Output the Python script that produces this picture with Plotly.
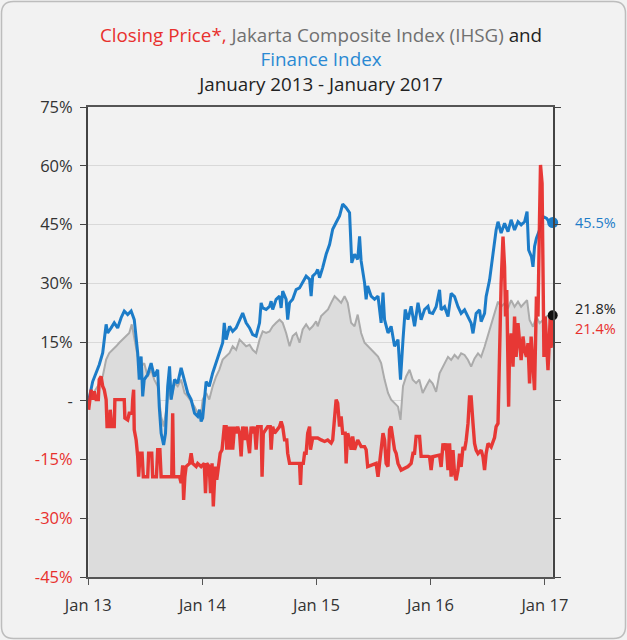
import plotly.graph_objects as go

# ---------------- data ----------------
blue_dates = [
    "2013-01-02","2013-01-15","2013-02-05","2013-02-16","2013-02-27","2013-03-04","2013-03-15","2013-03-25",
    "2013-04-05","2013-04-16","2013-04-26","2013-05-07","2013-05-18","2013-05-28","2013-06-08","2013-06-13",
    "2013-06-19","2013-06-24","2013-06-29","2013-07-10","2013-07-21","2013-07-31","2013-08-11","2013-08-16",
    "2013-08-22","2013-08-30","2013-09-05","2013-09-12","2013-09-18","2013-09-23","2013-10-04","2013-10-14",
    "2013-10-25","2013-11-05","2013-11-15","2013-11-26","2013-12-07","2013-12-17","2013-12-23","2013-12-28",
    "2014-01-02","2014-01-13","2014-01-23","2014-02-03","2014-02-14","2014-02-24","2014-03-07","2014-03-12",
    "2014-03-18","2014-03-29","2014-04-08","2014-04-19","2014-04-30","2014-05-10","2014-05-21","2014-06-01",
    "2014-06-11","2014-06-22","2014-07-03","2014-07-08","2014-07-13","2014-07-24","2014-08-04","2014-08-09",
    "2014-08-14","2014-08-25","2014-09-05","2014-09-10","2014-09-15","2014-09-26","2014-10-01","2014-10-07",
    "2014-10-17","2014-10-28","2014-11-08","2014-11-18","2014-11-29","2014-12-10","2014-12-15","2014-12-20",
    "2014-12-31","2015-01-05","2015-01-11","2015-01-21","2015-02-01","2015-02-12","2015-02-22","2015-03-05",
    "2015-03-16","2015-03-26","2015-04-06","2015-04-17","2015-04-24","2015-05-03","2015-05-13","2015-05-19",
    "2015-05-24","2015-06-04","2015-06-09","2015-06-14","2015-06-25","2015-07-06","2015-07-17","2015-07-27",
    "2015-08-02","2015-08-07","2015-08-18","2015-08-28","2015-09-08","2015-09-19","2015-09-27","2015-10-05",
    "2015-10-12","2015-10-21","2015-10-31","2015-11-11","2015-11-22","2015-12-02","2015-12-13","2015-12-24",
    "2015-12-29","2016-01-08","2016-01-19","2016-01-30","2016-02-04","2016-02-15","2016-02-26","2016-03-07",
    "2016-03-18","2016-03-29","2016-04-08","2016-04-19","2016-04-30","2016-05-10","2016-05-16","2016-05-26",
    "2016-06-06","2016-06-11","2016-06-22","2016-06-27","2016-07-08","2016-07-13","2016-07-19","2016-07-24",
    "2016-07-29","2016-08-04","2016-08-14","2016-08-25","2016-09-05","2016-09-15","2016-09-26","2016-10-07",
    "2016-10-17","2016-10-28","2016-11-05","2016-11-10","2016-11-19","2016-11-24","2016-11-29","2016-12-05",
    "2016-12-15","2016-12-26","2017-01-06","2017-01-10","2017-01-21","2017-01-26",
]
blue_values = [
    0.0, 4.9, 9.2, 12.2, 19.5, 17.3, 18.6, 19.9,
    18.6, 21.2, 22.9, 22.0, 22.9, 20.7, 12.2, 5.4,
    11.3, 1.1, 5.4, 6.7, 9.6, 6.2, 7.9, -1.5,
    -8.3, -11.3, -8.3, 3.7, 8.8, 0.3, 5.4, 4.5,
    8.4, 4.9, 2.0, 0.3, -3.2, -4.0, -2.3, -5.3,
    -4.4, 4.9, 3.7, 7.1, 9.6, 12.2, 14.8, 19.9,
    15.6, 19.0, 17.7, 18.6, 20.5, 22.4, 19.9, 18.6,
    16.9, 16.5, 19.9, 25.0, 23.7, 23.3, 24.1, 25.4,
    23.3, 25.9, 26.7, 23.7, 28.0, 25.9, 20.7, 25.0,
    25.9, 28.4, 28.8, 30.1, 31.8, 31.0, 26.7, 31.8,
    32.7, 33.5, 31.4, 34.0, 37.4, 39.9, 43.8, 45.5,
    47.2, 50.2, 49.3, 48.0, 35.2, 37.4, 36.1, 42.0,
    35.7, 30.1, 25.9, 29.3, 26.7, 25.9, 26.7, 19.9,
    27.6, 20.7, 17.3, 19.0, 13.9, 15.6, 5.4, 15.6,
    23.3, 20.7, 24.1, 19.0, 25.0, 20.7, 23.3, 24.1,
    22.5, 22.3, 24.0, 28.3, 23.2, 24.0, 21.5, 27.4,
    26.6, 24.0, 22.3, 23.2, 21.5, 19.8, 17.2, 22.3,
    23.2, 20.2, 22.3, 26.6, 30.8, 34.2, 36.8, 41.1,
    43.6, 45.7, 42.8, 45.3, 43.2, 46.2, 43.6, 45.7,
    44.9, 45.7, 48.3, 38.5, 36.8, 34.2, 39.4, 41.5,
    43.6, 47.0, 46.6, 46.2, 44.9, 45.5,
]

grey_dates = [
    "2013-01-02","2013-01-31","2013-02-16","2013-02-27","2013-03-09","2013-03-20","2013-03-31","2013-04-10",
    "2013-04-21","2013-05-02","2013-05-12","2013-05-20","2013-05-28","2013-06-08","2013-06-19","2013-06-29",
    "2013-07-10","2013-07-21","2013-07-31","2013-08-11","2013-08-22","2013-08-30","2013-09-12","2013-09-17",
    "2013-09-23","2013-10-04","2013-10-14","2013-10-25","2013-11-05","2013-11-15","2013-11-26","2013-12-07",
    "2013-12-17","2013-12-28",
    "2014-01-02","2014-01-13","2014-01-23","2014-02-03","2014-02-14","2014-02-24","2014-03-07","2014-03-18",
    "2014-03-29","2014-04-08","2014-04-19","2014-04-30","2014-05-10","2014-05-21","2014-06-01","2014-06-11",
    "2014-06-22","2014-07-03","2014-07-13","2014-07-24","2014-08-04","2014-08-14","2014-08-25","2014-09-05",
    "2014-09-15","2014-09-26","2014-10-07","2014-10-17","2014-10-28","2014-11-08","2014-11-18","2014-11-29",
    "2014-12-10","2014-12-20","2014-12-31",
    "2015-01-05","2015-01-16","2015-01-27","2015-02-07","2015-02-17","2015-02-28","2015-03-10","2015-03-21",
    "2015-04-01","2015-04-11","2015-04-22","2015-05-03","2015-05-13","2015-05-24","2015-06-04","2015-06-14",
    "2015-06-25","2015-07-06","2015-07-17","2015-07-27","2015-08-07","2015-08-18","2015-08-28","2015-09-08",
    "2015-09-19","2015-09-27","2015-10-05","2015-10-15","2015-10-26","2015-11-05","2015-11-16","2015-11-26",
    "2015-12-07","2015-12-18","2015-12-29",
    "2016-01-08","2016-01-19","2016-01-30","2016-02-15","2016-02-26","2016-03-07","2016-03-18","2016-03-29",
    "2016-04-08","2016-04-19","2016-04-30","2016-05-10","2016-05-21","2016-06-01","2016-06-11","2016-06-22",
    "2016-07-02","2016-07-13","2016-07-24","2016-08-04","2016-08-14","2016-08-25","2016-09-05","2016-09-15",
    "2016-09-26","2016-10-07","2016-10-17","2016-10-28","2016-11-05","2016-11-13","2016-11-24","2016-12-05",
    "2016-12-15","2016-12-26","2017-01-06","2017-01-16","2017-01-26",
]
grey_values = [
    0.0, 3.7, 6.2, 10.5, 12.2, 13.0, 13.9, 14.8,
    15.6, 16.5, 17.3, 19.5, 15.6, 11.3, 8.8, 9.6,
    6.2, 7.9, 5.4, 3.7, -4.0, -6.6, 0.3, 3.0,
    0.3, 4.5, 3.7, 5.4, 2.0, 1.1, -0.2, -1.5,
    -3.2, -3.2,
    0.3, 2.0, 0.3, 3.7, 6.2, 7.9, 10.5, 11.3,
    12.2, 13.9, 13.0, 15.6, 14.8, 13.9, 14.3, 13.0,
    12.2, 15.6, 17.7, 17.3, 17.7, 19.0, 19.9, 20.7,
    19.9, 17.3, 13.9, 16.5, 17.3, 14.8, 18.2, 19.5,
    18.2, 19.0, 20.3,
    19.0, 21.6, 22.4, 23.3, 25.0, 26.7, 25.9, 25.0,
    26.7, 25.0, 19.9, 19.0, 22.0, 17.3, 14.8, 13.9,
    13.0, 12.2, 11.3, 9.6, 5.4, 2.0, 0.3, -0.6,
    -1.5, -4.9, 3.7, 6.2, 7.9, 5.4, 4.5, 5.4,
    2.0, 3.7, 5.3,
    4.4, 2.3, 7.0, 9.5, 11.2, 10.4, 11.7, 10.8,
    12.1, 11.7, 10.4, 8.7, 10.8, 12.1, 11.2, 13.8,
    16.4, 19.8, 22.3, 25.3, 24.0, 24.9, 23.6, 25.7,
    24.0, 25.3, 24.0, 24.9, 25.7, 20.6, 18.9, 21.5,
    19.8, 20.6, 21.5, 21.9, 21.8,
]

red_dates = [
    "2013-01-02","2013-01-10","2013-01-15","2013-01-20","2013-01-26","2013-02-02","2013-02-05","2013-02-11",
    "2013-02-16","2013-02-21","2013-02-27","2013-03-02","2013-03-09","2013-03-12","2013-03-17","2013-03-25",
    "2013-03-27","2013-04-26","2013-04-28","2013-05-07","2013-05-12","2013-05-21","2013-05-23","2013-05-26",
    "2013-05-28","2013-06-03","2013-06-08","2013-06-11","2013-06-16","2013-06-22","2013-06-26","2013-07-10",
    "2013-07-13","2013-07-23","2013-07-26","2013-08-07","2013-08-11","2013-08-18","2013-08-22","2013-09-25",
    "2013-09-28","2013-10-01","2013-10-20","2013-10-25","2013-10-30","2013-11-02","2013-11-06","2013-11-10",
    "2013-11-21","2013-11-26","2013-12-01","2013-12-12","2013-12-17","2013-12-28",
    "2014-01-07","2014-01-11","2014-01-15","2014-01-23","2014-01-27","2014-02-01","2014-02-05","2014-02-11",
    "2014-02-16","2014-02-22","2014-02-27","2014-03-05","2014-03-12","2014-03-18","2014-03-20","2014-03-24",
    "2014-03-29","2014-04-03","2014-04-08","2014-04-14","2014-04-19","2014-04-24","2014-04-30","2014-05-05",
    "2014-05-10","2014-05-16","2014-05-21","2014-06-01","2014-06-06","2014-06-11","2014-06-17","2014-06-22",
    "2014-06-27","2014-07-08","2014-07-11","2014-07-15","2014-07-29","2014-08-06","2014-08-09","2014-08-14",
    "2014-08-20","2014-09-05","2014-09-10","2014-09-15","2014-09-21","2014-09-28","2014-10-01","2014-10-07",
    "2014-11-08","2014-11-11","2014-11-14","2014-11-20","2014-11-24","2014-11-29","2014-12-04","2014-12-10",
    "2014-12-13","2014-12-20","2014-12-31",
    "2015-01-05","2015-01-16","2015-01-27","2015-02-06","2015-02-17","2015-02-22","2015-02-28","2015-03-05",
    "2015-03-10","2015-03-16","2015-03-21","2015-03-26","2015-04-03","2015-04-06","2015-04-11","2015-04-17",
    "2015-04-22","2015-04-27","2015-05-03","2015-05-13","2015-05-24","2015-06-04","2015-06-09","2015-06-14",
    "2015-07-11","2015-07-17","2015-07-22","2015-07-27","2015-08-02","2015-08-07","2015-08-12","2015-08-18",
    "2015-08-23","2015-08-28","2015-09-03","2015-09-08","2015-09-13","2015-09-19","2015-09-29","2015-10-21",
    "2015-10-31","2015-11-06","2015-11-11","2015-11-16","2015-11-27","2015-12-02","2015-12-24","2015-12-29",
    "2016-01-03","2016-01-08","2016-01-30","2016-02-04","2016-02-10","2016-02-15","2016-02-20","2016-02-26",
    "2016-03-02","2016-03-07","2016-03-13","2016-03-18","2016-03-23","2016-03-29","2016-04-03","2016-04-08",
    "2016-04-14","2016-04-19","2016-04-24","2016-04-30","2016-05-05","2016-05-10","2016-05-16","2016-05-21",
    "2016-05-26","2016-06-01","2016-06-11","2016-06-17","2016-06-22","2016-06-27","2016-07-03","2016-07-13",
    "2016-07-24","2016-07-29","2016-08-04","2016-08-09","2016-08-14","2016-08-20","2016-08-25","2016-08-28",
    "2016-09-01","2016-09-07","2016-09-10","2016-09-15","2016-09-21","2016-09-26","2016-10-01","2016-10-07",
    "2016-10-12","2016-10-17","2016-10-23","2016-10-28","2016-11-03","2016-11-08","2016-11-13","2016-11-18",
    "2016-11-24","2016-11-29","2016-12-05","2016-12-10","2016-12-15","2016-12-18","2016-12-23","2016-12-26",
    "2016-12-29","2017-01-02","2017-01-06","2017-01-11","2017-01-14","2017-01-18","2017-01-21","2017-01-24",
    "2017-01-26",
]
red_values = [
    -2.3, 2.8, 0.3, 2.4, 0.3, 0.3, 5.4, 6.2,
    3.7, 2.8, 0.3, -6.6, -6.6, -2.3, -6.6, -6.6,
    0.3, 0.3, -4.4, -4.9, -3.2, -3.2, 0.3, 2.8,
    -7.4, -10.0, -14.2, -19.4, -13.4, -13.4, -19.4, -19.4,
    -13.4, -13.4, -19.4, -19.4, -12.5, -12.5, -19.4, -19.4,
    -3.2, -19.4, -19.4, -21.0, -16.5, -25.3, -19.4, -16.8,
    -16.0, -13.4, -16.0, -16.8, -16.0, -16.8,
    -16.0, -23.6, -16.0, -16.8, -23.6, -16.0, -27.0, -16.8,
    -20.2, -16.0, -13.4, -12.5, -6.6, -6.6, -12.5, -6.6,
    -12.5, -6.6, -12.5, -6.6, -8.3, -6.6, -8.3, -14.2,
    -6.6, -10.0, -6.6, -13.4, -6.6, -8.3, -6.6, -12.5,
    -6.6, -6.6, -19.4, -8.3, -6.6, -6.6, -12.5, -6.6,
    -8.3, -6.6, -5.3, -6.6, -10.0, -10.0, -13.4, -16.0,
    -16.0, -21.5, -16.0, -16.0, -13.4, -13.4, -8.3, -6.6,
    -12.5, -9.5, -9.5,
    -9.5, -10.0, -10.4, -10.0, -10.8, -10.0, -3.2, 0.3,
    -0.6, -6.6, -4.0, -8.3, -8.3, -16.0, -8.3, -10.0,
    -12.5, -9.1, -12.5, -10.0, -11.7, -11.7, -12.5, -16.8,
    -16.0, -19.4, -16.0, -12.5, -8.3, -10.0, -16.0, -16.8,
    -7.4, -6.6, -10.0, -12.5, -13.4, -16.0, -17.7, -16.8,
    -16.0, -13.4, -13.4, -9.1, -9.1, -14.2, -14.2, -14.3,
    -17.7, -14.3, -13.9, -16.9, -10.9, -12.6, -10.9, -17.7,
    -10.9, -19.4, -12.6, -18.6, -20.3, -17.7, -13.5, -16.9,
    -11.8, -12.6, -10.2, -5.8, 1.0, 1.0, -5.8, -10.9,
    -12.6, -13.5, -12.6, -14.3, -17.7, -13.5, -10.9, -11.8,
    -9.4, -6.6, -5.8, 12.9, 30.0, 41.9, 34.2, 21.5,
    28.3, -1.5, 12.9, 17.2, 8.7, 21.5, 11.2, 19.8,
    14.7, 10.4, 16.4, 12.9, 11.2, 14.7, 4.4, 16.4,
    8.7, 2.7, 26.6, 21.5, 47.0, 60.2, 55.5, 30.0,
    11.2, 21.5, 16.4, 7.8, 13.0, 21.5, 13.5, 20.0,
    21.4,
]

y_tick_vals = [-45, -30, -15, 0, 15, 30, 45, 60, 75]
y_tick_text = ["-45%", "-30%", "-15%", "-", "15%", "30%", "45%", "60%", "75%"]
x_tick_vals = ["2013-01-01", "2014-01-01", "2015-01-01", "2016-01-01", "2017-01-01"]
x_tick_text = ["Jan 13", "Jan 14", "Jan 15", "Jan 16", "Jan 17"]

end_labels = ["45.5%", "21.8%", "21.4%"]

# ---------------- style ----------------
RED = "#e8302d"
BLUE = "#1c7cc8"
GREY_LINE = "#ababab"
GREY_FILL = "#dcdcdc"
FONT = "Open Sans"

W, H = 627, 640
L, R, T, B = 88, 74, 107, 63
PW, PH = W - L - R, H - T - B


def px(x):
    return (x - L) / PW


def py(y):
    return (H - B - y) / PH


fig = go.Figure()

# baseline for grey area fill
fig.add_trace(go.Scatter(x=[grey_dates[0], grey_dates[-1]], y=[-45, -45], mode="lines",
                         line=dict(width=0), hoverinfo="skip", showlegend=False))
fig.add_trace(go.Scatter(x=grey_dates, y=grey_values, mode="lines", fill="tonexty",
                         fillcolor=GREY_FILL, line=dict(color=GREY_LINE, width=2),
                         name="IHSG", showlegend=False))
fig.add_trace(go.Scatter(x=blue_dates, y=blue_values, mode="lines",
                         line=dict(color=BLUE, width=3), name="Finance Index", showlegend=False))
fig.add_trace(go.Scatter(x=red_dates, y=red_values, mode="lines",
                         line=dict(color=RED, width=3.4), opacity=0.95,
                         name="Closing Price", showlegend=False))
# end markers
fig.add_trace(go.Scatter(x=[blue_dates[-1]], y=[blue_values[-1]], mode="markers",
                         marker=dict(color=BLUE, size=11), cliponaxis=False, showlegend=False))
fig.add_trace(go.Scatter(x=[grey_dates[-1]], y=[grey_values[-1]], mode="markers",
                         marker=dict(color="#111111", size=10), cliponaxis=False, showlegend=False))

ytext = []
for v, t in zip(y_tick_vals, y_tick_text):
    if v < 0:
        ytext.append(f"<span style='color:{RED}'>{t}</span>")
    else:
        ytext.append(t)

fig.update_layout(
    width=W, height=H,
    margin=dict(l=L, r=R, t=T, b=B),
    paper_bgcolor="#f2f2f2", plot_bgcolor="#f2f2f2",
    font=dict(family=FONT, size=16, color="#333333"),
    showlegend=False,
    xaxis=dict(range=["2012-12-31", "2017-01-27"], tickvals=x_tick_vals, ticktext=x_tick_text,
               showgrid=False, showline=True, linecolor="#555555", linewidth=2, mirror=True,
               ticks="outside", ticklen=6, tickcolor="#555555", tickwidth=1,
               tickfont=dict(size=16.5, color="#333333"), zeroline=False, ticklabelstandoff=6),
    yaxis=dict(range=[-45, 75], tickvals=y_tick_vals, ticktext=ytext,
               showgrid=True, gridcolor="#d9d9d9", gridwidth=1,
               showline=True, linecolor="#444444", linewidth=2, mirror="ticks",
               ticks="outside", ticklen=6, tickcolor="#444444", tickwidth=1,
               tickfont=dict(size=16.5, color="#333333"), zeroline=False, ticklabelstandoff=4),
)

title_html = (f"<span style='color:{RED}'>Closing Price*,</span> "
              "<span style='color:#707070'>Jakarta Composite Index (IHSG)</span> "
              "<span style='color:#222222'>and</span><br>"
              f"<span style='color:#2a89d3'>Finance Index</span><br>"
              "<span style='color:#222222'>January 2013 - January 2017</span>")
fig.add_annotation(text=title_html, xref="paper", yref="paper", x=0.5, y=py(20),
                   xanchor="center", yanchor="top", showarrow=False,
                   font=dict(size=18.8, family=FONT), align="center")

label_colors = [BLUE, "#222222", RED]
label_y = [blue_values[-1], 23.6, 18.4]
for txt, yv, col in zip(end_labels, label_y, label_colors):
    fig.add_annotation(text=txt, xref="paper", yref="y", x=px(573), y=yv,
                       xanchor="left", yanchor="middle", showarrow=False,
                       font=dict(size=14.5, color=col, family=FONT))

# rounded outer border
r = 12
x0, x1, y0, y1 = 1.5, W - 1.5, 1.5, H - 1.5
pts = [
    ("M", x0 + r, y0), ("L", x1 - r, y0), ("Q", x1, y0, x1, y0 + r), ("L", x1, y1 - r),
    ("Q", x1, y1, x1 - r, y1), ("L", x0 + r, y1), ("Q", x0, y1, x0, y1 - r), ("L", x0, y0 + r),
    ("Q", x0, y0, x0 + r, y0),
]
path = ""
for p in pts:
    if p[0] == "Q":
        path += f"Q{px(p[1]):.5f},{py(p[2]):.5f} {px(p[3]):.5f},{py(p[4]):.5f} "
    else:
        path += f"{p[0]}{px(p[1]):.5f},{py(p[2]):.5f} "
path += "Z"
fig.add_shape(type="path", path=path, xref="paper", yref="paper",
              line=dict(color="#bdbdbd", width=1.5), layer="below")

fig.write_html("out.html", config={"displayModeBar": False},
               post_script="document.body.style.margin='0';document.body.style.overflow='hidden';")
